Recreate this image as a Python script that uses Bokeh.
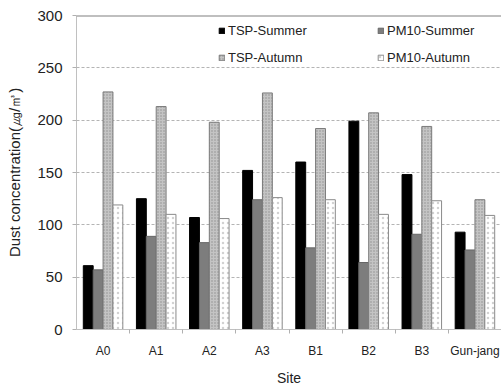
from bokeh.plotting import figure
from bokeh.models import (Range1d, FixedTicker, Span, Legend, LegendItem, ColumnDataSource)
from bokeh.embed import file_html
from bokeh.resources import INLINE

sites = ["A0", "A1", "A2", "A3", "B1", "B2", "B3", "Gun-jang"]
tsp_summer = [61, 125, 107, 152, 160, 199, 148, 93]
pm10_summer = [57, 89, 83, 124, 78, 64, 91, 76]
tsp_autumn = [227, 213, 198, 226, 192, 207, 194, 124]
pm10_autumn = [119, 110, 106, 126, 124, 110, 123, 109]
series_names = ["TSP-Summer", "PM10-Summer", "TSP-Autumn", "PM10-Autumn"]
y_ticks = [0, 50, 100, 150, 200, 250, 300]

FONT = "Liberation Sans"

p = figure(width=501, height=388, output_backend="svg", toolbar_location=None,
           x_range=Range1d(0, len(sites)), y_range=Range1d(y_ticks[0], y_ticks[-1]),
           min_border_left=76, min_border_right=0, min_border_top=15, min_border_bottom=58)
p.outline_line_color = None
p.background_fill_color = "white"
p.border_fill_color = "white"

centers = [i + 0.5 for i in range(len(sites))]
bw = 0.186
offsets = [-1.5 * bw, -0.5 * bw, 0.5 * bw, 1.5 * bw]

styles = [
    dict(fill_color="black", line_color="black"),
    dict(fill_color="#7d7d7d", line_color="#666666"),
    dict(fill_color="#c4c4c4", line_color="#7a7a7a", hatch_pattern="dot", hatch_color="#8f8f8f", hatch_scale=3, hatch_weight=1),
    dict(fill_color="white", line_color="#8a8a8a", hatch_pattern="dot", hatch_color="#d2d2d2", hatch_scale=5, hatch_weight=1),
]
renderers = []
for vals, off, st in zip([tsp_summer, pm10_summer, tsp_autumn, pm10_autumn], offsets, styles):
    src = ColumnDataSource(dict(x=[c + off for c in centers], top=vals))
    r = p.vbar(x="x", top="top", bottom=0, width=bw, source=src, line_width=1, **st)
    renderers.append(r)

# top border line at 300
p.add_layout(Span(location=y_ticks[-1], dimension="width", line_color="#808080", line_width=2))

# grid
p.xgrid.visible = False
p.ygrid.ticker = FixedTicker(ticks=y_ticks[1:-1])
p.ygrid.grid_line_color = "#b4b4b4"
p.ygrid.grid_line_dash = "3 2"
p.ygrid.grid_line_width = 1

# y axis
p.yaxis.ticker = FixedTicker(ticks=y_ticks)
p.yaxis.axis_line_color = "#c0c0c0"
p.yaxis.major_tick_line_color = "#b0b0b0"
p.yaxis.major_tick_out = 4
p.yaxis.major_tick_in = 0
p.yaxis.minor_tick_line_color = None
p.yaxis.major_label_text_font = FONT
p.yaxis.major_label_text_font_size = "15px"
p.yaxis.major_label_text_color = "#222222"
p.yaxis.major_label_standoff = 10
p.yaxis.axis_label = "Dust concentration(㎍/㎥)"
p.yaxis.axis_label_text_font = FONT
p.yaxis.axis_label_text_font_style = "normal"
p.yaxis.axis_label_text_font_size = "15px"
p.yaxis.axis_label_text_color = "#222222"
p.yaxis.axis_label_standoff = 11

# x axis
p.xaxis.ticker = FixedTicker(ticks=centers, minor_ticks=list(range(1, len(sites))))
p.xaxis.major_label_overrides = {c: s for c, s in zip(centers, sites)}
p.xaxis.axis_line_color = "#c0c0c0"
p.xaxis.major_tick_line_color = None
p.xaxis.major_tick_out = 0
p.xaxis.major_tick_in = 0
p.xaxis.minor_tick_line_color = "#b0b0b0"
p.xaxis.minor_tick_out = 4
p.xaxis.minor_tick_in = 0
p.xaxis.major_label_text_font = FONT
p.xaxis.major_label_text_font_size = "12px"
p.xaxis.major_label_text_color = "#222222"
p.xaxis.major_label_standoff = 10
p.xaxis.axis_label = "Site"
p.xaxis.axis_label_text_font = FONT
p.xaxis.axis_label_text_font_style = "normal"
p.xaxis.axis_label_text_font_size = "14px"
p.xaxis.axis_label_text_color = "#222222"
p.xaxis.axis_label_standoff = 9

items = [LegendItem(label=n, renderers=[r]) for n, r in zip(series_names, renderers)]
order = [items[0], items[2], items[1], items[3]]
legend = Legend(items=order, ncols=2, location=(142, 264), orientation="vertical",
                padding=0, margin=0, border_line_color=None, background_fill_alpha=0,
                glyph_width=7, glyph_height=7, label_standoff=3, label_width=137,
                label_height=14, spacing=12,
                label_text_font=FONT, label_text_font_size="13px", label_text_color="#222222")
p.add_layout(legend)

open("out.html", "w").write(file_html(p, INLINE))
